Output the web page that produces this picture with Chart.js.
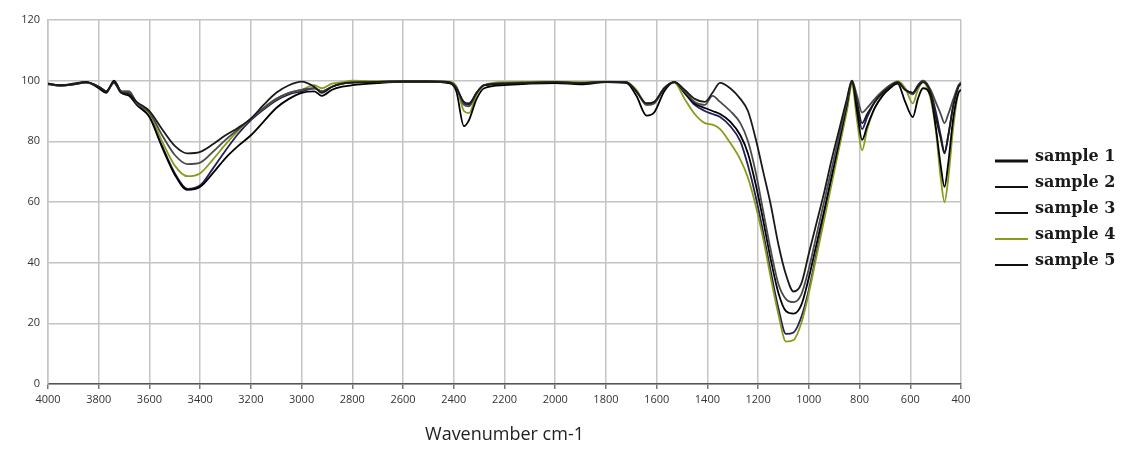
<!DOCTYPE html>
<html>
<head>
<meta charset="utf-8">
<script src="https://cdn.jsdelivr.net/npm/chart.js@4/dist/chart.umd.min.js"></script>
<style>
  html, body { margin: 0; padding: 0; background: #fff; }
  #wrap { width: 1128px; height: 450px; position: relative; }
</style>
</head>
<body>
<div id="wrap"><canvas id="ftir-chart"></canvas></div>
<script>
// wavenumbers (cm-1), shared by every sample
const wavenumbers = [
  4000, 3950, 3900, 3850, 3800, 3770, 3740, 3710, 3680, 3650,
  3600, 3550, 3500, 3450, 3400, 3350, 3300, 3250, 3200, 3150,
  3100, 3050, 3000, 2950, 2920, 2880, 2840, 2800, 2700, 2600,
  2500, 2420, 2390, 2360, 2340, 2310, 2280, 2200, 2100, 2000,
  1900, 1800, 1720, 1680, 1640, 1610, 1570, 1530, 1490, 1450,
  1410, 1380, 1350, 1310, 1270, 1240, 1210, 1180, 1150, 1120,
  1090, 1060, 1030, 1000, 970, 940, 910, 880, 850, 830,
  810, 790, 770, 740, 710, 680, 650, 620, 590, 570,
  550, 520, 500, 480, 465, 450, 430, 410, 400
];

const sample1 = [
  99, 98.5, 98.8, 99.5, 98, 96.5, 99.5, 96, 95.5, 93,
  90, 84, 78.5, 76, 76.5, 79, 82, 84.5, 87.5, 92,
  96, 98.5, 99.7, 98, 96, 98, 99, 99.3, 99.6, 99.8,
  99.8, 99.5, 97.5, 93, 92.5, 96, 98.5, 99, 99.3, 99.5,
  99.2, 99.6, 99.5, 96.5, 92.5, 93, 97.5, 99.5, 97, 94,
  93, 96, 99.3, 97.5, 94, 90, 81, 70, 59, 46,
  36, 30.5, 33, 43, 53, 63, 74, 84, 94, 100,
  93, 86, 89, 93, 96, 98, 99.5, 97, 96, 98,
  99.5, 96, 88, 81, 76, 82, 92, 98, 99
];

const sample2 = [
  99, 98.3, 98.8, 99.4, 98, 96.5, 99.3, 96.5, 96.5, 92.5,
  89.5, 82, 75.5, 72.5, 73, 76.5, 80.5, 84, 87.5, 91,
  94, 96, 97, 97.5, 96.5, 98, 99, 99.5, 99.6, 99.7,
  99.7, 99.5, 97.8, 92, 91.5, 96, 98.5, 99.2, 99.4, 99.5,
  99.3, 99.6, 99.5, 96.5, 92, 92.5, 97.5, 99.5, 96.5, 93,
  92, 95, 93, 90, 86, 80, 70, 57, 44, 33,
  28, 27, 29.5, 38, 49, 60, 71, 82, 93, 100,
  95, 89.5, 91, 94, 96.5, 98.5, 99.5, 97, 95.5, 98,
  100, 97, 93, 89, 86, 89, 94, 98.5, 99.5
];

const sample3 = [
  99, 98.5, 99, 99.6, 97.5, 96, 100, 96, 95, 92,
  88, 78, 69, 64, 65, 69.5, 74.5, 78.5, 82, 86.5,
  91, 94, 96, 96.5, 95, 97, 98, 98.5, 99.2, 99.6,
  99.6, 99.2, 96.5, 85, 87, 94, 97.5, 98.5, 99, 99.2,
  98.8, 99.5, 99.3, 95, 88.5, 89.5, 96.5, 99.6, 96, 92.5,
  91, 90, 89, 86.5, 82, 76, 66, 54, 41, 30,
  24, 23.2, 26, 35, 46, 57, 68.5, 80, 92, 99.8,
  90, 80.5, 85, 91, 95, 97.5, 99, 93, 88, 94,
  97.5, 95, 85, 72, 65, 73, 88, 96, 97
];

const sample4 = [
  99, 98.5, 99, 99.5, 98, 96.5, 99.5, 96.5, 96.5, 92.5,
  89, 80, 72, 68.5, 69.5, 74, 79, 83.5, 87.5, 91,
  94, 96, 97, 98.5, 97.5, 99, 99.5, 100, 99.8, 99.8,
  99.8, 99.7, 98.2, 90, 89.3, 95.5, 98.5, 99.5, 99.6, 99.7,
  99.5, 99.7, 99.5, 97, 92, 92.5, 97.5, 99.3, 94, 89,
  86, 85.5, 84, 79.5, 74, 68, 59, 48, 35, 23,
  14, 14.5, 20, 30, 42, 54, 66, 78, 90, 98.5,
  87, 77, 84, 91, 95, 98, 99.8, 97.5, 92.5, 97,
  99.5, 94, 84, 68, 60, 68, 85, 96, 97
];

const sample5 = [
  98.8, 98.3, 98.8, 99.4, 98, 96.5, 99.3, 96, 96, 92.5,
  88.5, 78.5, 69.5, 64.3, 65.5, 71, 77, 82.5, 87, 90.5,
  93.5, 95.5, 96.5, 97.5, 96.5, 98, 99, 99.5, 99.6, 99.7,
  99.7, 99.4, 97.8, 92.5, 92, 96, 98.5, 99, 99.3, 99.4,
  99.2, 99.5, 99.4, 96.5, 92.5, 93, 97.5, 99.5, 96, 92,
  90, 89, 88, 85, 80, 72, 62, 50, 37, 25,
  16.5, 17, 22, 31, 43, 55, 67, 79, 91, 99.5,
  92, 84, 88, 93, 96, 98.5, 99.5, 97, 96, 98.5,
  100, 96.5, 90, 82, 76.5, 82, 92, 98, 99
];

const seriesNames = ['sample 1', 'sample 2', 'sample 3', 'sample 4', 'sample 5'];
const seriesValues = [sample1, sample2, sample3, sample4, sample5];
const seriesColors = ['#1a1a1a', '#4a4a4a', '#000000', '#8a9b1b', '#1f2158'];
const legendColors = ['#111', '#111', '#111', '#8a9b1b', '#111'];
const legendWidths = [3, 2, 2, 2, 2];

const xTicks = { min: 400, max: 4000, step: 200 };
const yTicks = { min: 0, max: 120, step: 20 };

// legend drawn to the right of the plot, same look as the figure
const sideLegend = {
  id: 'sideLegend',
  afterDraw(chart) {
    const ctx = chart.ctx;
    ctx.save();
    ctx.font = 'bold 16px "DejaVu Serif", serif';
    ctx.textBaseline = 'middle';
    chart.data.datasets.forEach((ds, i) => {
      const y = 157 + i * 26;
      ctx.strokeStyle = legendColors[i];
      ctx.lineWidth = legendWidths[i];
      ctx.beginPath();
      ctx.moveTo(995, y + 4);
      ctx.lineTo(1028, y + 4);
      ctx.stroke();
      ctx.fillStyle = '#1a1a1a';
      ctx.fillText(ds.label, 1035, y);
    });
    ctx.restore();
  }
};

const ctx = document.getElementById('ftir-chart');
const myChart = new Chart(ctx, {
  type: 'line',
  data: {
    datasets: seriesNames.map((name, i) => ({
      label: name,
      data: wavenumbers.map((w, j) => ({ x: w, y: seriesValues[i][j] })),
      borderColor: seriesColors[i],
      borderWidth: 1.8,
      pointRadius: 0,
      cubicInterpolationMode: 'monotone',
      fill: false
    }))
  },
  options: {
    responsive: true,
    maintainAspectRatio: false,
    animation: false,
    layout: { padding: { top: 20, right: 167, left: 0, bottom: 0 } },
    plugins: {
      legend: { display: false },
      tooltip: { enabled: false }
    },
    scales: {
      x: {
        type: 'linear',
        reverse: true,
        min: xTicks.min,
        max: xTicks.max,
        afterFit(scale) { scale.height = 66; },
        ticks: {
          stepSize: xTicks.step,
          color: '#333',
          font: { family: 'Open Sans', size: 11 },
          maxRotation: 0,
          padding: 4,
          // plain numbers, no thousands separator
          callback: value => String(value)
        },
        grid: { color: '#c4c4c4', lineWidth: 1.5, tickLength: 5, tickColor: '#777' },
        border: { color: '#555', width: 1.5 },
        title: {
          display: true,
          text: 'Wavenumber cm-1',
          color: '#222',
          font: { family: 'Open Sans', size: 18 },
          padding: { top: 8, bottom: 4 }
        }
      },
      y: {
        min: yTicks.min,
        max: yTicks.max,
        afterFit(scale) { scale.width = 48; },
        ticks: {
          stepSize: yTicks.step,
          color: '#333',
          font: { family: 'Open Sans', size: 11 },
          padding: 8
        },
        grid: { color: '#c4c4c4', lineWidth: 1.5, drawTicks: false },
        border: { color: '#c4c4c4', width: 1.5 }
      }
    }
  },
  plugins: [sideLegend]
});
</script>
</body>
</html>
